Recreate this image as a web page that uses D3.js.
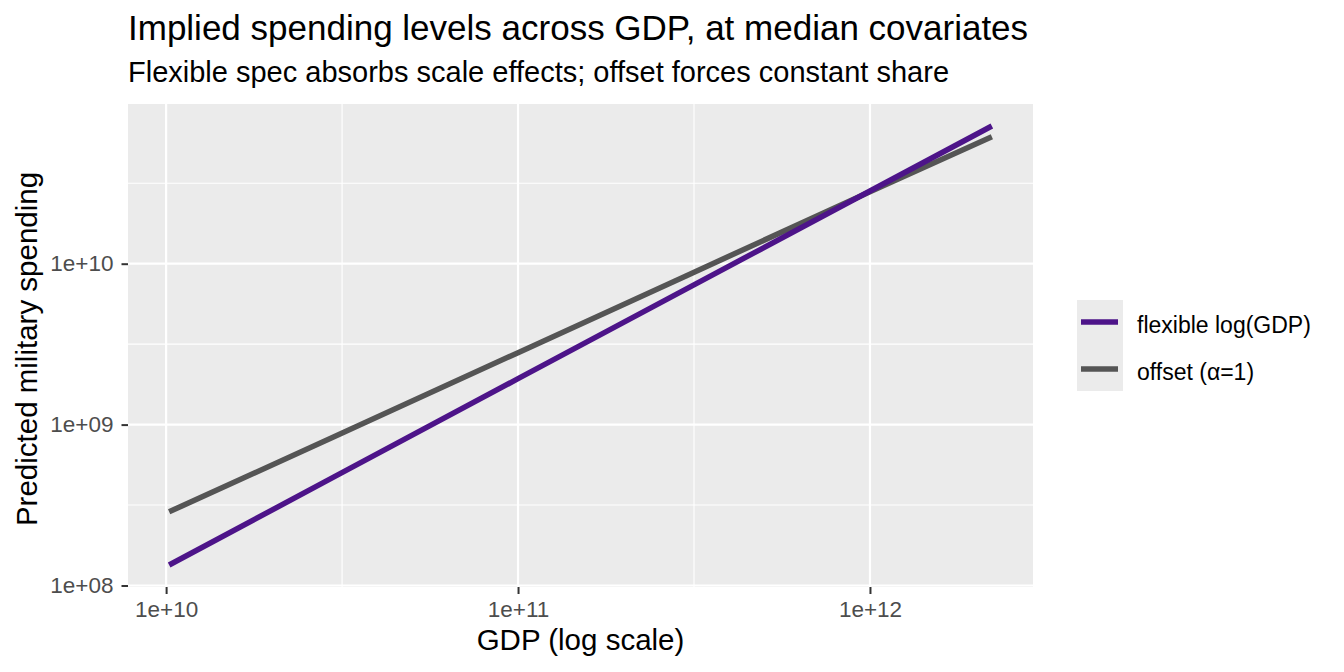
<!DOCTYPE html>
<html lang="en">
<head>
<meta charset="utf-8">
<title>Implied spending levels across GDP</title>
<script src="https://cdn.jsdelivr.net/npm/d3@7/dist/d3.min.js"></script>
<style>
  body { margin: 0; background: #fff; }
  text { font-family: "Liberation Sans", Arial, Helvetica, sans-serif; }
</style>
</head>
<body>
<script>
// data
var gdp = [1.02e10, 3e10, 1e11, 3e11, 1e12, 2.22e12];
var flexible = [1.34e8, 4.73e8, 1.93e9, 6.95e9, 2.83e10, 7.18e10];
var offset = [2.87e8, 8.4e8, 2.8e9, 8.4e9, 2.8e10, 6.15e10];
var seriesNames = ["flexible log(GDP)", "offset (\u03b1=1)"];
var seriesColors = ["#4d1489", "#555555"];
var xTicks = [1e10, 1e11, 1e12];
var yTicks = [1e8, 1e9, 1e10];
var xTickLabels = ["1e+10", "1e+11", "1e+12"];
var yTickLabels = ["1e+08", "1e+09", "1e+10"];

var w = 1344, h = 672;
var panel = { left: 128, top: 104, right: 1033, bottom: 587 };

var svg = d3.select("body").append("svg")
  .attr("width", w)
  .attr("height", h);

// ggplot style 5% expansion on log scale
function expand(vals) {
  var lo = Math.log10(d3.min(vals)), hi = Math.log10(d3.max(vals));
  var r = hi - lo;
  return [Math.pow(10, lo - 0.05 * r), Math.pow(10, hi + 0.05 * r)];
}

var x = d3.scaleLog()
  .domain(expand(gdp))
  .range([panel.left, panel.right]);

var y = d3.scaleLog()
  .domain(expand(flexible.concat(offset)))
  .range([panel.bottom, panel.top]);

// panel background
svg.append("rect")
  .attr("x", panel.left)
  .attr("y", panel.top)
  .attr("width", panel.right - panel.left)
  .attr("height", panel.bottom - panel.top)
  .attr("fill", "#ebebeb");

// minor grid (half decades)
var xMinor = [Math.pow(10, 10.5), Math.pow(10, 11.5)];
var yMinor = [Math.pow(10, 8.5), Math.pow(10, 9.5), Math.pow(10, 10.5)];

svg.selectAll(".xminor").data(xMinor).enter().append("line")
  .attr("x1", d => x(d)).attr("x2", d => x(d))
  .attr("y1", panel.top).attr("y2", panel.bottom)
  .attr("stroke", "#fff").attr("stroke-width", 1.1);

svg.selectAll(".yminor").data(yMinor).enter().append("line")
  .attr("y1", d => y(d)).attr("y2", d => y(d))
  .attr("x1", panel.left).attr("x2", panel.right)
  .attr("stroke", "#fff").attr("stroke-width", 1.1);

// major grid
svg.selectAll(".xmajor").data(xTicks).enter().append("line")
  .attr("x1", d => x(d)).attr("x2", d => x(d))
  .attr("y1", panel.top).attr("y2", panel.bottom)
  .attr("stroke", "#fff").attr("stroke-width", 2.2);

svg.selectAll(".ymajor").data(yTicks).enter().append("line")
  .attr("y1", d => y(d)).attr("y2", d => y(d))
  .attr("x1", panel.left).attr("x2", panel.right)
  .attr("stroke", "#fff").attr("stroke-width", 2.2);

// lines
var line = d3.line()
  .x(d => x(d[0]))
  .y(d => y(d[1]));

var series = [flexible, offset];
// draw offset first so flexible sits on top
[1, 0].forEach(function(i) {
  svg.append("path")
    .datum(gdp.map((g, j) => [g, series[i][j]]))
    .attr("d", line)
    .attr("fill", "none")
    .attr("stroke", seriesColors[i])
    .attr("stroke-width", 5.5);
});

// axes
var xAxis = d3.axisBottom(x)
  .tickValues(xTicks)
  .tickFormat((d, i) => xTickLabels[i])
  .tickSize(7)
  .tickPadding(7.5);

var yAxis = d3.axisLeft(y)
  .tickValues(yTicks)
  .tickFormat((d, i) => yTickLabels[i])
  .tickSize(6.5)
  .tickPadding(8);

var gx = svg.append("g")
  .attr("transform", "translate(0," + panel.bottom + ")")
  .call(xAxis);
var gy = svg.append("g")
  .attr("transform", "translate(" + panel.left + ",0)")
  .call(yAxis);

[gx, gy].forEach(function(g) {
  g.select(".domain").remove();
  g.selectAll(".tick line").attr("stroke", "#333").attr("stroke-width", 2);
  g.selectAll(".tick text")
    .attr("fill", "#4d4d4d")
    .style("font-size", "22.5px")
    .style("font-family", "'Liberation Sans', Arial, sans-serif");
});

// titles
svg.append("text")
  .attr("x", panel.left).attr("y", 39.5)
  .style("font-size", "35px")
  .attr("fill", "#000")
  .text("Implied spending levels across GDP, at median covariates");

svg.append("text")
  .attr("x", panel.left).attr("y", 82)
  .style("font-size", "29px")
  .attr("fill", "#000")
  .text("Flexible spec absorbs scale effects; offset forces constant share");

svg.append("text")
  .attr("x", (panel.left + panel.right) / 2).attr("y", 650)
  .attr("text-anchor", "middle")
  .style("font-size", "29.5px")
  .text("GDP (log scale)");

svg.append("text")
  .attr("transform", "translate(37,349) rotate(-90)")
  .attr("text-anchor", "middle")
  .style("font-size", "29.5px")
  .text("Predicted military spending");

// legend
var legend = svg.append("g").attr("transform", "translate(1077,300)");
legend.append("rect")
  .attr("width", 46).attr("height", 91)
  .attr("fill", "#ebebeb");

seriesNames.forEach(function(name, i) {
  var cy = 22 + i * 47;
  legend.append("line")
    .attr("x1", 4).attr("x2", 41)
    .attr("y1", cy).attr("y2", cy)
    .attr("stroke", seriesColors[i])
    .attr("stroke-width", 5.5);
  legend.append("text")
    .attr("x", 60).attr("y", cy + 10.5)
    .style("font-size", "23px")
    .text(name);
});
</script>
</body>
</html>
